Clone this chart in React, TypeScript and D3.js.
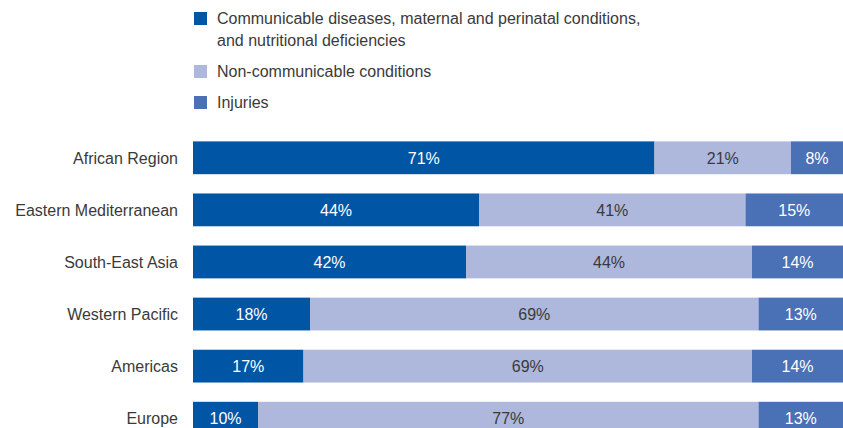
import { useEffect, useRef } from 'react';
import * as d3 from 'd3';

const REGIONS = [
  'African Region',
  'Eastern Mediterranean',
  'South-East Asia',
  'Western Pacific',
  'Americas',
  'Europe',
];
const COMMUNICABLE = [71, 44, 42, 18, 17, 10];
const NON_COMMUNICABLE = [21, 41, 44, 69, 69, 77];
const INJURIES = [8, 15, 14, 13, 14, 13];

const SERIES = [
  { key: 'communicable', label: ['Communicable diseases, maternal and perinatal conditions,', 'and nutritional deficiencies'], values: COMMUNICABLE, color: '#0055a5', text: '#ffffff' },
  { key: 'noncommunicable', label: ['Non-communicable conditions'], values: NON_COMMUNICABLE, color: '#adb8dc', text: '#3a3a3a' },
  { key: 'injuries', label: ['Injuries'], values: INJURIES, color: '#4a70b6', text: '#ffffff' },
];

const WIDTH = 843;
const HEIGHT = 428;
const FONT = '"Liberation Sans", Arial, Helvetica, sans-serif';
const FONT_SIZE = '16px';

export default function App() {
  const svgRef = useRef<SVGSVGElement>(null);

  useEffect(() => {
    if (!svgRef.current) return;
    const svg = d3.select(svgRef.current);
    svg.selectAll('*').remove();

    const x = d3.scaleLinear().domain([0, 100]).range([193, 843]);
    const y = d3.scaleBand().domain(REGIONS).range([132, 444]).paddingInner(0.37).paddingOuter(0.18);

    // stacked rows
    const rows = REGIONS.map((region, i) => {
      let acc = 0;
      return SERIES.map((s) => {
        const seg = { region, x0: acc, x1: acc + s.values[i], value: s.values[i], color: s.color, text: s.text };
        acc += s.values[i];
        return seg;
      });
    });

    const g = svg.append('g');
    rows.forEach((segs) => {
      const row = g.append('g');
      row
        .selectAll('rect')
        .data(segs)
        .enter()
        .append('rect')
        .attr('x', (d) => x(d.x0))
        .attr('y', (d) => y(d.region)!)
        .attr('width', (d) => x(d.x1) - x(d.x0))
        .attr('height', y.bandwidth())
        .attr('fill', (d) => d.color);
      row
        .selectAll('text')
        .data(segs)
        .enter()
        .append('text')
        .attr('x', (d) => (x(d.x0) + x(d.x1)) / 2)
        .attr('y', (d) => y(d.region)! + y.bandwidth() / 2)
        .attr('dy', '0.36em')
        .attr('text-anchor', 'middle')
        .style('font-family', FONT)
        .style('font-size', FONT_SIZE)
        .style('fill', (d) => d.text)
        .text((d) => `${d.value}%`);
    });

    // region labels
    svg
      .append('g')
      .selectAll('text')
      .data(REGIONS)
      .enter()
      .append('text')
      .attr('x', 178)
      .attr('y', (d) => y(d)! + y.bandwidth() / 2)
      .attr('dy', '0.36em')
      .attr('text-anchor', 'end')
      .style('font-family', FONT)
      .style('font-size', FONT_SIZE)
      .style('fill', '#3a3a3a')
      .text((d) => d);

    // legend
    const legendY = [12, 65, 96];
    const legend = svg
      .append('g')
      .selectAll('g')
      .data(SERIES)
      .enter()
      .append('g')
      .attr('transform', (_d, i) => `translate(194,${legendY[i]})`);
    legend.append('rect').attr('width', 13).attr('height', 13).attr('fill', (d) => d.color);
    legend.each(function (d) {
      d.label.forEach((line, j) => {
        d3.select(this)
          .append('text')
          .attr('x', 23)
          .attr('y', 6.5 + j * 22)
          .attr('dy', '0.36em')
          .style('font-family', FONT)
          .style('font-size', FONT_SIZE)
          .style('fill', '#3a3a3a')
          .text(line);
      });
    });
  }, []);

  return (
    <svg
      ref={svgRef}
      width={WIDTH}
      height={HEIGHT}
      style={{ position: 'absolute', left: 0, top: 0, background: '#ffffff' }}
    />
  );
}
